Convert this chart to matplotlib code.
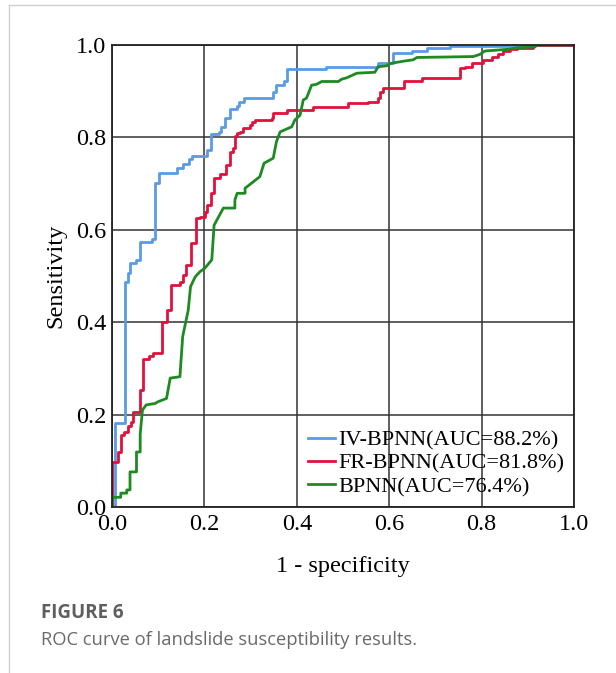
import matplotlib.pyplot as plt
from matplotlib.lines import Line2D

# ROC points (1 - specificity, sensitivity)
iv_fpr = [0, 0.0065, 0.028, 0.034, 0.039, 0.053, 0.061, 0.086, 0.093, 0.102, 0.141, 0.154,
          0.167, 0.173, 0.206, 0.214, 0.232, 0.236, 0.245, 0.255, 0.271, 0.275, 0.286, 0.348,
          0.355, 0.372, 0.379, 0.463, 0.576, 0.608, 0.649, 0.681, 0.732, 0.908, 1.0]
iv_tpr = [0, 0.182, 0.488, 0.506, 0.528, 0.535, 0.574, 0.580, 0.701, 0.723, 0.734, 0.742,
          0.753, 0.760, 0.773, 0.807, 0.812, 0.823, 0.842, 0.861, 0.869, 0.877, 0.886, 0.899,
          0.913, 0.921, 0.947, 0.953, 0.961, 0.983, 0.988, 0.993, 0.998, 1.0, 1.0]

fr_fpr = [0, 0.001, 0.014, 0.019, 0.027, 0.034, 0.041, 0.046, 0.061, 0.068, 0.081, 0.089,
          0.108, 0.118, 0.127, 0.147, 0.153, 0.160, 0.170, 0.182, 0.190, 0.201, 0.206, 0.214,
          0.221, 0.234, 0.247, 0.255, 0.262, 0.266, 0.270, 0.277, 0.284, 0.299, 0.302, 0.310,
          0.346, 0.349, 0.378, 0.436, 0.511, 0.555, 0.576, 0.580, 0.587, 0.631, 0.670, 0.740,
          0.753, 0.764, 0.779, 0.804, 0.822, 0.836, 0.847, 0.861, 0.876, 0.911, 1.0]
fr_tpr = [0, 0.098, 0.120, 0.156, 0.163, 0.175, 0.185, 0.206, 0.253, 0.320, 0.327, 0.334,
          0.401, 0.426, 0.481, 0.488, 0.502, 0.524, 0.571, 0.625, 0.628, 0.639, 0.654, 0.679,
          0.713, 0.720, 0.740, 0.769, 0.776, 0.802, 0.810, 0.812, 0.820, 0.827, 0.833, 0.838,
          0.841, 0.852, 0.859, 0.866, 0.874, 0.877, 0.885, 0.899, 0.906, 0.921, 0.928, 0.929,
          0.950, 0.953, 0.960, 0.968, 0.975, 0.980, 0.986, 0.991, 0.994, 1.0, 1.0]

bp_fpr = [0, 0.001, 0.019, 0.019, 0.032, 0.032, 0.039, 0.039, 0.053, 0.053, 0.061, 0.061,
          0.066, 0.074, 0.093, 0.100, 0.118, 0.126, 0.147, 0.153, 0.165, 0.170, 0.180, 0.190,
          0.201, 0.216, 0.221, 0.241, 0.266, 0.266, 0.271, 0.288, 0.288, 0.320, 0.329, 0.349,
          0.356, 0.364, 0.389, 0.396, 0.407, 0.414, 0.421, 0.432, 0.443, 0.454, 0.490, 0.497,
          0.508, 0.530, 0.569, 0.576, 0.595, 0.602, 0.631, 0.652, 0.660, 0.782, 0.797, 0.807,
          0.861, 0.876, 0.916, 0.919, 1.0]
bp_tpr = [0, 0.021, 0.021, 0.030, 0.030, 0.037, 0.037, 0.076, 0.076, 0.119, 0.119, 0.158,
          0.210, 0.221, 0.224, 0.228, 0.235, 0.279, 0.282, 0.369, 0.426, 0.477, 0.498, 0.509,
          0.517, 0.535, 0.610, 0.647, 0.647, 0.665, 0.679, 0.679, 0.690, 0.715, 0.744, 0.755,
          0.791, 0.812, 0.823, 0.838, 0.848, 0.881, 0.885, 0.913, 0.915, 0.921, 0.921, 0.926,
          0.929, 0.939, 0.941, 0.953, 0.955, 0.960, 0.965, 0.968, 0.973, 0.975, 0.980, 0.987,
          0.991, 0.994, 0.996, 1.0, 1.0]

labels = ['IV-BPNN(AUC=88.2%)', 'FR-BPNN(AUC=81.8%)', 'BPNN(AUC=76.4%)']
colors = ['#5a9be6', '#e0123c', '#1d8a22']
ticks = [0.0, 0.2, 0.4, 0.6, 0.8, 1.0]

serif = 'Liberation Serif'

fig = plt.figure(figsize=(6.16, 6.73), dpi=100)
ax = fig.add_axes([112 / 616, 1 - 507 / 673, 462 / 616, 462 / 673])

ax.plot(iv_fpr, iv_tpr, drawstyle='steps-post', color=colors[0], lw=2.0, label=labels[0])
ax.plot(fr_fpr, fr_tpr, drawstyle='steps-post', color=colors[1], lw=2.0, label=labels[1])
ax.plot(bp_fpr, bp_tpr, color=colors[2], lw=2.0, label=labels[2])

ax.set_xlim(0, 1)
ax.set_ylim(0, 1)
ax.set_xticks(ticks)
ax.set_yticks(ticks)
ax.set_xticklabels(['%.1f' % t for t in ticks], family=serif, fontsize=17.5)
ax.set_yticklabels(['%.1f' % t for t in ticks], family=serif, fontsize=17.5)
ax.tick_params(length=0)
ax.tick_params(axis='x', pad=5)
ax.tick_params(axis='y', pad=4)
ax.grid(True, color='#333333', lw=1.1)
ax.set_axisbelow(True)
for s in ax.spines.values():
    s.set_color('#222222')
    s.set_linewidth(1.3)

ax.set_xlabel('1 - specificity', family=serif, fontsize=17.5, labelpad=15)
ax.set_ylabel('Sensitivity', family=serif, fontsize=17.5, labelpad=7)

leg = ax.legend(loc='lower right', frameon=False, prop={'family': serif, 'size': 16},
                handlelength=1.2, handletextpad=0.14, labelspacing=0.12,
                borderaxespad=0.05)

# page frame lines and caption
fig.add_artist(Line2D([8.5 / 616, 8.5 / 616], [0, 1 - 5 / 673], color='#d0d0d0', lw=1))
fig.add_artist(Line2D([8.5 / 616, 1], [1 - 5 / 673, 1 - 5 / 673], color='#d0d0d0', lw=1))
fig.text(41 / 616, 1 - 613 / 673, 'FIGURE 6', family='Open Sans', fontweight='bold',
         fontsize=13.5, color='#5f5f5f', va='center')
fig.text(41 / 616, 1 - 640 / 673, 'ROC curve of landslide susceptibility results.',
         family='Open Sans', fontsize=13.2, color='#6a6a6a', va='center')

fig.savefig('out.png', dpi=100)
